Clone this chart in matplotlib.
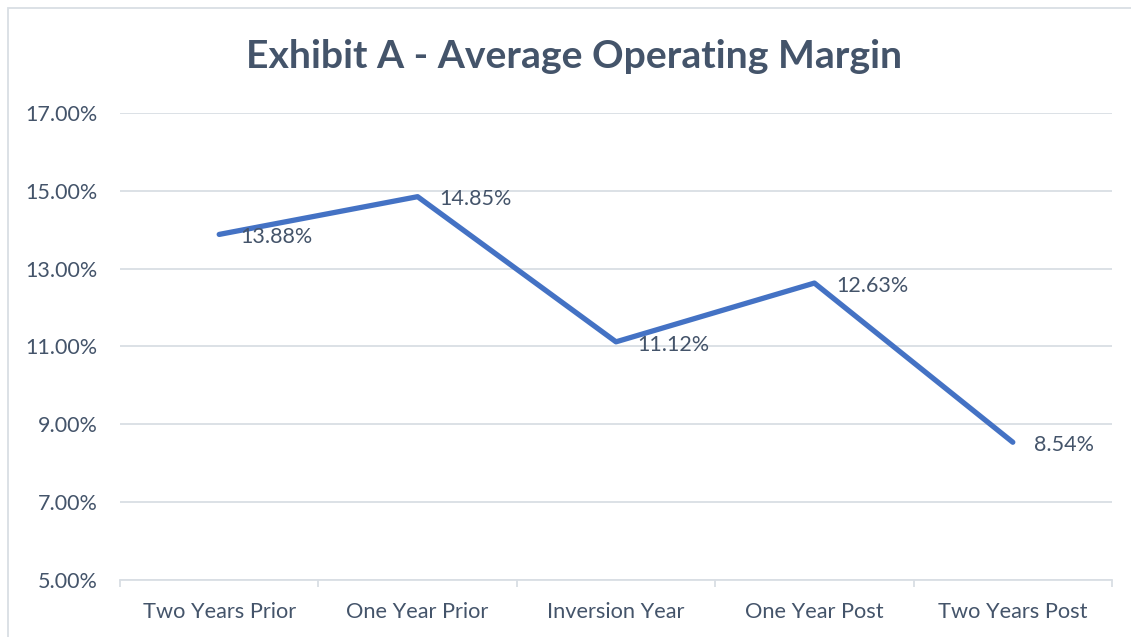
import numpy as np
import matplotlib.pyplot as plt
from matplotlib.patches import Rectangle
from matplotlib.ticker import FuncFormatter

categories = ['Two Years Prior', 'One Year Prior', 'Inversion Year', 'One Year Post', 'Two Years Post']
margin = [13.88, 14.85, 11.12, 12.63, 8.54]
y_ticks = [5, 7, 9, 11, 13, 15, 17]

plt.rcParams['font.family'] = ['Lato', 'DejaVu Sans']
text_col = '#44546A'
grid_col = '#D9DEE4'

fig = plt.figure(figsize=(11.31, 6.37), dpi=100)
ax = fig.add_axes([120/1131, 1 - 580/637, (1112 - 120)/1131, (580 - 113)/637])

x = np.arange(len(categories))
ax.plot(x, margin, color='#4472C4', linewidth=3.8, solid_capstyle='round', solid_joinstyle='round', zorder=3)
for xi, v in zip(x, margin):
    ax.annotate(f'{v:.2f}%', (xi, v), xytext=(15.5, -2), textcoords='offset points',
                ha='left', va='center', fontsize=15.5, color=text_col)

ax.set_xlim(-0.5, len(categories) - 0.5)
ax.set_ylim(5, 17)
ax.set_yticks(y_ticks)
ax.yaxis.set_major_formatter(FuncFormatter(lambda v, p: f'{v:.2f}%'))
ax.grid(axis='y', color=grid_col, linewidth=1.3)
ax.set_axisbelow(True)

ax.set_xticks(x)
ax.set_xticklabels(categories)
ax.set_xticks(np.arange(len(categories) + 1) - 0.5, minor=True)
ax.tick_params(axis='x', which='major', length=0, pad=16, labelsize=15.7, labelcolor=text_col)
ax.tick_params(axis='x', which='minor', length=5, width=1.3, color=grid_col, direction='out')
ax.tick_params(axis='y', length=0, pad=16, labelsize=15.5, labelcolor=text_col)

for s in ['top', 'right', 'left']:
    ax.spines[s].set_visible(False)
ax.spines['bottom'].set_color(grid_col)
ax.spines['bottom'].set_linewidth(1.3)

fig.text(574/1131, 1 - 56/637, 'Exhibit A - Average Operating Margin', ha='center', va='center',
         fontsize=28.2, fontweight='bold', color=text_col)

fig.patches.append(Rectangle((8/1131, -0.1), 1.2, 1 - 8/637 + 0.1, transform=fig.transFigure,
                             fill=False, edgecolor=grid_col, linewidth=1.3))

fig.savefig('out.png', dpi=100)
